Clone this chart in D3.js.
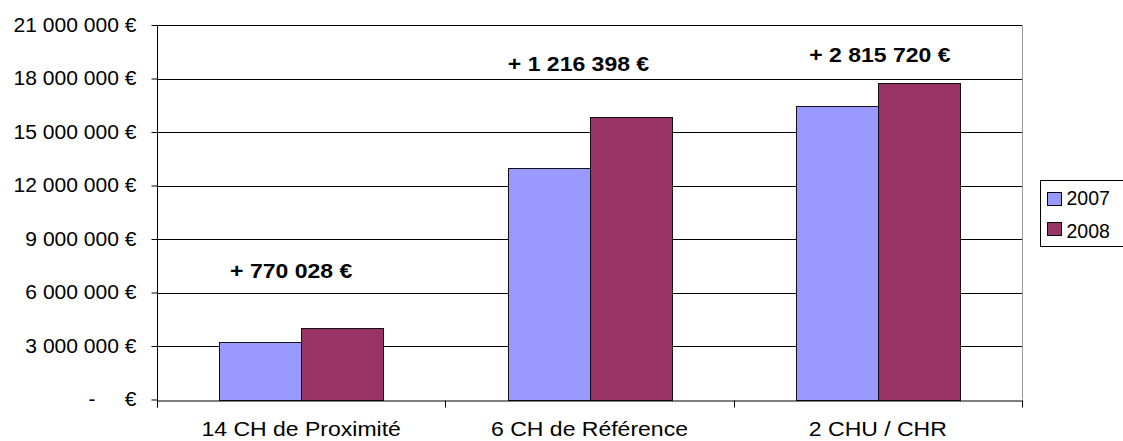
<html>
<head>
<style>
  body { margin: 0; background: #fff; }
  text { font-family: "Liberation Sans", Arial, sans-serif; }
</style>
</head>
<body>
<svg id="chart"></svg>
<script src="https://cdn.jsdelivr.net/npm/d3@7"></script>
<script>
var categories = ["14 CH de Proximité", "6 CH de Référence", "2 CHU / CHR"];
var years = ["2007", "2008"];
var values2007 = [3240000, 12980000, 16470000];
var values2008 = [4020000, 15830000, 17740000];
var diffLabels = ["+ 770 028 €", "+ 1 216 398 €", "+ 2 815 720 €"];
var diffLabelLevels = [6800000, 18420000, 18930000];
var yTicks = [0, 3000000, 6000000, 9000000, 12000000, 15000000, 18000000, 21000000];
var colors = ["#9999FF", "#993366"];

var W = 1123, H = 441;
var pLeft = 157, pRight = 1022, pTop = 25, pBottom = 399.5;
var fontSize = 19.5;
var labelShift = [-10, -11, 2];

var svg = d3.select("#chart").attr("width", W).attr("height", H);

var x = d3.scaleBand().domain(categories).range([pLeft, pRight]).paddingInner(0).paddingOuter(0);
var xs = d3.scaleBand().domain(years).range([0, 164]);
var y = d3.scaleLinear().domain([0, 21000000]).range([pBottom, pTop]);

function fmt(v) {
  if (v === 0) return "-     €";
  return d3.format(",")(v).replace(/,/g, " ") + " €";
}

// gridlines
svg.append("g")
  .selectAll("line")
  .data(yTicks.filter(function(d){ return d > 0; }))
  .enter().append("line")
  .attr("x1", pLeft).attr("x2", pRight)
  .attr("y1", function(d){ return Math.round(y(d)) + 0.5; })
  .attr("y2", function(d){ return Math.round(y(d)) + 0.5; })
  .attr("stroke", "#000").attr("stroke-width", 1);

// right border
svg.append("line")
  .attr("x1", pRight + 0.5).attr("x2", pRight + 0.5)
  .attr("y1", pTop).attr("y2", pBottom)
  .attr("stroke", "#999");

// bars
var series = [values2007, values2008];
var groups = svg.append("g");
categories.forEach(function(c, i) {
  years.forEach(function(yr, j) {
    var x0 = x(c) + (x.bandwidth() - 164) / 2 + xs(yr);
    groups.append("rect")
      .attr("x", Math.round(x0) + 0.5)
      .attr("y", Math.round(y(series[j][i])) + 0.5)
      .attr("width", xs.bandwidth())
      .attr("height", Math.round(pBottom) - Math.round(y(series[j][i])))
      .attr("fill", colors[j])
      .attr("stroke", "#111").attr("stroke-width", 1);
  });
});

// y axis
var yAxis = svg.append("g").attr("transform", "translate(" + (pLeft + 0.5) + ",0)")
  .call(d3.axisLeft(y).tickValues(yTicks).tickSize(6).tickPadding(21).tickFormat(fmt));
yAxis.select(".domain").attr("stroke", "#000").attr("d", "M0," + pTop + "V" + (pBottom + 8));
yAxis.selectAll(".tick line").attr("stroke", "#000");
yAxis.selectAll(".tick text").attr("font-size", fontSize).attr("fill", "#000")
  .attr("font-family", "'Liberation Sans', Arial, sans-serif")
  .attr("x", -21 / 1.08)
  .attr("transform", "scale(1.08,1)")
  .attr("xml:space", "preserve").style("white-space", "pre");

// x axis
var xAxis = svg.append("g").attr("transform", "translate(0," + (Math.round(pBottom) + 0.5) + ")")
  .call(d3.axisBottom(x).tickSize(0).tickPadding(22));
xAxis.select(".domain").attr("stroke", "#000");
xAxis.selectAll(".tick text").attr("font-size", fontSize).attr("fill", "#000")
  .attr("font-family", "'Liberation Sans', Arial, sans-serif")
  .attr("transform", "scale(1.18,1)");
xAxis.selectAll(".sep")
  .data(categories.concat(["end"]))
  .enter().append("line")
  .attr("class", "sep")
  .attr("x1", function(d, i){ return Math.round(pLeft + i * x.bandwidth()) + 0.5; })
  .attr("x2", function(d, i){ return Math.round(pLeft + i * x.bandwidth()) + 0.5; })
  .attr("y1", 0).attr("y2", 7)
  .attr("stroke", "#000");

// difference labels
svg.append("g").selectAll("text")
  .data(categories)
  .enter().append("text")
  .attr("transform", function(d, i){
    return "translate(" + (x(d) + x.bandwidth() / 2 + labelShift[i]) + "," + y(diffLabelLevels[i]) + ") scale(1.18,1)";
  })
  .attr("text-anchor", "middle")
  .attr("font-size", fontSize).attr("font-weight", "bold")
  .text(function(d, i){ return diffLabels[i]; });

// legend
var lg = svg.append("g").attr("transform", "translate(1040.5,180.5)");
lg.append("rect").attr("width", 84).attr("height", 66).attr("fill", "#fff").attr("stroke", "#000");
years.forEach(function(yr, j) {
  lg.append("rect").attr("x", 7).attr("y", 12 + j * 30).attr("width", 14).attr("height", 13)
    .attr("fill", colors[j]).attr("stroke", "#000");
  lg.append("text").attr("x", 26).attr("y", 24 + j * 33).attr("font-size", fontSize).text(yr);
});
</script>
</body>
</html>
